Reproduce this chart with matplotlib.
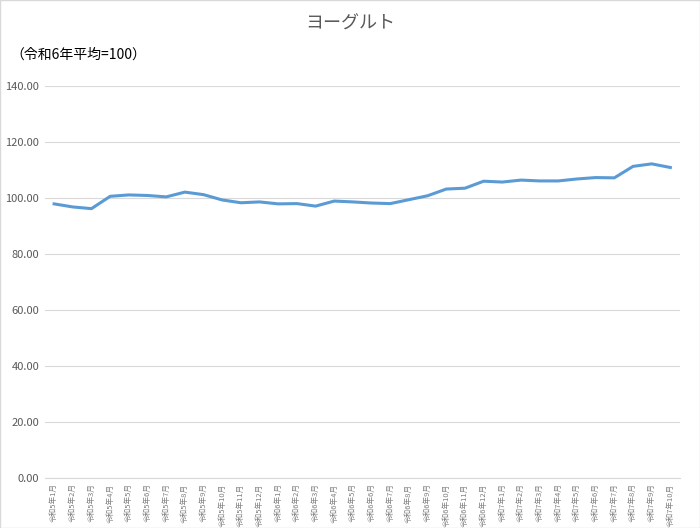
import matplotlib
matplotlib.use("Agg")
import matplotlib.pyplot as plt

plt.rcParams['font.family'] = ['Noto Sans CJK JP', 'DejaVu Sans']

months = [f"令和5年{m}月" for m in range(1, 13)] + [f"令和6年{m}月" for m in range(1, 13)] + [f"令和7年{m}月" for m in range(1, 11)]
values = [97.9, 96.8, 96.2, 100.6, 101.1, 100.9, 100.4, 102.1, 101.2, 99.3, 98.3, 98.6,
          97.9, 98.0, 97.1, 98.9, 98.6, 98.2, 98.0, 99.4, 100.8, 103.2, 103.5, 106.0,
          105.7, 106.4, 106.1, 106.1, 106.8, 107.3, 107.2, 111.3, 112.2, 110.9]
yticks = [0, 20, 40, 60, 80, 100, 120, 140]

fig = plt.figure(figsize=(7.0, 5.28), dpi=100)
ax = fig.add_axes([0.064, 0.095, 0.907, 0.742])
x = list(range(len(months)))
ax.plot(x, values, color='#5B9BD5', linewidth=2.2)
ax.set_xlim(-0.5, len(months) - 0.5)
ax.set_ylim(0, 140)
ax.set_yticks(yticks)
ax.set_yticklabels([f"{v:.2f}" for v in yticks], fontsize=8, color='#595959')
ax.set_xticks(x)
ax.set_xticklabels(months, rotation=90, fontsize=5.5, color='#7F7F7F')
ax.grid(axis='y', color='#D9D9D9', linewidth=0.8)
ax.set_axisbelow(True)
for s in ['top', 'right', 'left']:
    ax.spines[s].set_visible(False)
ax.spines['bottom'].set_color('#D9D9D9')
ax.tick_params(length=0, pad=4)
fig.text(0.5, 0.955, "ヨーグルト", ha='center', va='center', fontsize=13, color='#595959')
fig.text(0.015, 0.897, "（令和6年平均=100）", ha='left', va='center', fontsize=10, color='#000000')
fig.patches.append(plt.Rectangle((0, 0), 1, 1, transform=fig.transFigure, fill=False, edgecolor='#D9D9D9', linewidth=1))
fig.savefig("out.png", dpi=100)
